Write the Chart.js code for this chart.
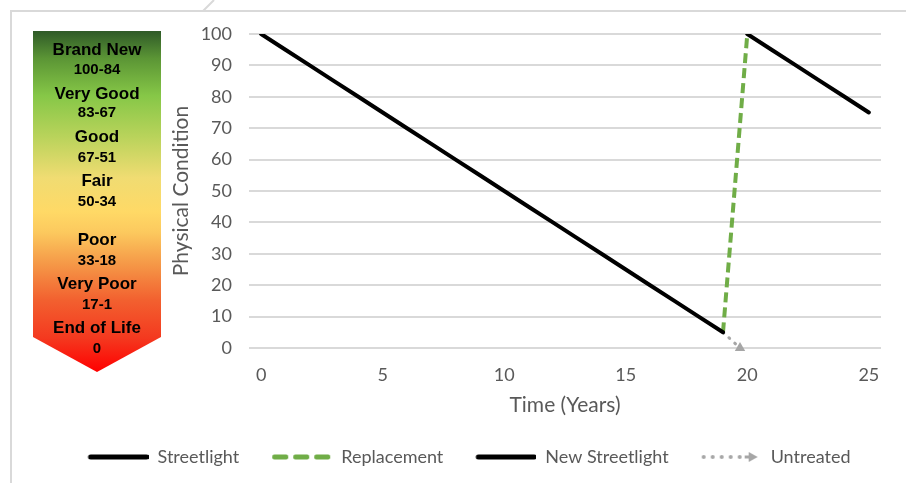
<!DOCTYPE html>
<html>
<head>
<meta charset="utf-8">
<script src="https://cdn.jsdelivr.net/npm/chart.js@4.4.1/dist/chart.umd.min.js"></script>
<style>
  html, body { margin: 0; padding: 0; background: #ffffff; overflow: hidden; }
  #wrap { width: 906px; height: 483px; position: relative; }
</style>
</head>
<body>
<div id="wrap"><canvas id="c" width="906" height="483"></canvas></div>
<script>
// Condition of a streetlight over its life, in years
const streetlightYears = [0, 1, 2, 3, 4, 5, 6, 7, 8, 9, 10, 11, 12, 13, 14, 15, 16, 17, 18, 19];
const streetlightCondition = [100, 95, 90, 85, 80, 75, 70, 65, 60, 55, 50, 45, 40, 35, 30, 25, 20, 15, 10, 5];
const replacementYears = [19, 20];
const replacementCondition = [5, 100];
const newStreetlightYears = [20, 21, 22, 23, 24, 25];
const newStreetlightCondition = [100, 95, 90, 85, 80, 75];
const untreatedYears = [19, 19.7];
const untreatedCondition = [5, 0];
const xTickValues = [0, 5, 10, 15, 20, 25];
const seriesNames = ['Streetlight', 'Replacement', 'New Streetlight', 'Untreated'];

// Condition rating scale shown beside the chart
const conditionNames = ['Brand New', 'Very Good', 'Good', 'Fair', 'Poor', 'Very Poor', 'End of Life'];
const conditionRanges = ['100-84', '83-67', '67-51', '50-34', '33-18', '17-1', '0'];

const GRID = '#d9d9d9';
const TEXT = '#595959';
const FONT = 'Lato, "Open Sans", sans-serif';

const pts = (xs, ys) => xs.map((x, i) => ({ x: x, y: ys[i] }));

// Small canvases used as legend samples (left part is spacing)
function sample(draw) {
  const c = document.createElement('canvas');
  c.width = 83; c.height = 14;
  const g = c.getContext('2d');
  draw(g);
  return c;
}
const solidSample = sample(g => {
  g.strokeStyle = '#000'; g.lineWidth = 5; g.lineCap = 'round';
  g.beginPath(); g.moveTo(25, 7); g.lineTo(81, 7); g.stroke();
});
const dashSample = sample(g => {
  g.fillStyle = '#70ad47';
  [[23, 16], [44, 16], [65, 16]].forEach(([x, w]) => {
    g.beginPath(); g.roundRect(x, 4.5, w, 5, 2); g.fill();
  });
});
const dotSample = sample(g => {
  g.fillStyle = '#a6a6a6';
  [25, 34, 43, 52, 61].forEach(x => { g.beginPath(); g.arc(x, 7, 2, 0, Math.PI * 2); g.fill(); });
  g.strokeStyle = '#a6a6a6'; g.lineWidth = 3;
  g.beginPath(); g.moveTo(66, 7); g.lineTo(72, 7); g.stroke();
  g.beginPath(); g.moveTo(70, 2); g.lineTo(79, 7); g.lineTo(70, 12); g.closePath(); g.fill();
});
const legendSamples = [solidSample, dashSample, solidSample, dotSample];

// Frame and the colour-coded rating arrow on the left
const sidePanel = {
  id: 'sidePanel',
  beforeDraw(chart) {
    const ctx = chart.ctx;
    ctx.save();
    ctx.strokeStyle = '#d9d9d9';
    ctx.lineWidth = 2;
    ctx.beginPath();
    ctx.moveTo(11, 483); ctx.lineTo(11, 11); ctx.lineTo(906, 11);
    ctx.moveTo(203, 11); ctx.lineTo(214, 0);
    ctx.stroke();

    const top = 31, bottom = 337, tip = 372, left = 33, right = 161, cx = 97;
    const grad = ctx.createLinearGradient(0, top, 0, tip);
    grad.addColorStop(0.00, '#2f5a28');
    grad.addColorStop(0.08, '#5b9535');
    grad.addColorStop(0.19, '#86c747');
    grad.addColorStop(0.31, '#b9d35b');
    grad.addColorStop(0.43, '#f0dc72');
    grad.addColorStop(0.53, '#ffd966');
    grad.addColorStop(0.59, '#fcc95e');
    grad.addColorStop(0.68, '#f59a48');
    grad.addColorStop(0.79, '#f2602f');
    grad.addColorStop(0.90, '#f4391f');
    grad.addColorStop(1.00, '#ff0000');
    ctx.fillStyle = grad;
    ctx.beginPath();
    ctx.moveTo(left, top); ctx.lineTo(right, top); ctx.lineTo(right, bottom);
    ctx.lineTo(cx, tip); ctx.lineTo(left, bottom); ctx.closePath();
    ctx.fill();

    const nameY = [50, 94, 137, 181, 240, 284, 328];
    const rangeY = [70, 113, 158, 202, 261, 305, 349];
    ctx.fillStyle = '#000';
    ctx.textAlign = 'center';
    ctx.textBaseline = 'middle';
    conditionNames.forEach((name, i) => {
      ctx.font = 'bold 17px "Liberation Sans", Arial, sans-serif';
      ctx.fillText(name, cx, nameY[i]);
      ctx.font = 'bold 15px "Liberation Sans", Arial, sans-serif';
      ctx.fillText(conditionRanges[i], cx, rangeY[i]);
    });
    ctx.restore();
  }
};

new Chart(document.getElementById('c'), {
  type: 'scatter',
  data: {
    datasets: [
      {
        label: seriesNames[0], data: pts(streetlightYears, streetlightCondition),
        showLine: true, borderColor: '#000000', borderWidth: 4, pointRadius: 0,
        borderCapStyle: 'round'
      },
      {
        label: seriesNames[1], data: pts(replacementYears, replacementCondition),
        showLine: true, borderColor: '#70ad47', borderWidth: 4, pointRadius: 0,
        borderDash: [10, 5]
      },
      {
        label: seriesNames[2], data: pts(newStreetlightYears, newStreetlightCondition),
        showLine: true, borderColor: '#000000', borderWidth: 4, pointRadius: 0,
        borderCapStyle: 'round'
      },
      {
        label: seriesNames[3], data: pts(untreatedYears, untreatedCondition),
        showLine: true, borderColor: '#a6a6a6', borderWidth: 3, borderDash: [1, 7],
        borderCapStyle: 'round',
        pointRadius: [0, 6], pointStyle: 'triangle',
        pointBackgroundColor: '#a6a6a6', pointBorderColor: '#a6a6a6', pointBorderWidth: 0,
        clip: false
      }
    ]
  },
  options: {
    responsive: false,
    animation: false,
    layout: { padding: { left: 10, right: 0, top: 34, bottom: 7 } },
    scales: {
      x: {
        type: 'linear', min: -0.5, max: 25.5,
        afterBuildTicks: s => { s.ticks = xTickValues.map(v => ({ value: v })); },
        afterFit: s => { s.height = 90; },
        grid: { display: false, drawTicks: false },
        border: { display: false },
        ticks: { color: TEXT, font: { family: FONT, size: 18 }, padding: 16, maxRotation: 0 },
        title: { display: true, text: 'Time (Years)', color: TEXT, font: { family: FONT, size: 21 }, padding: { top: 0, bottom: 20 } }
      },
      y: {
        min: 0, max: 100,
        afterFit: s => { s.width = 239; },
        grid: { color: GRID, lineWidth: 2, drawTicks: false },
        border: { display: false },
        ticks: { stepSize: 10, color: TEXT, font: { family: FONT, size: 18 }, padding: 17 },
        title: { display: true, text: 'Physical Condition', color: TEXT, font: { family: FONT, size: 21 }, padding: { top: 159, bottom: 0 } }
      },
      // empty strip on the right of the plot
      yRight: {
        position: 'right', min: 0, max: 100,
        afterFit: s => { s.width = 25; },
        grid: { display: false, drawTicks: false },
        border: { display: false },
        ticks: { display: false }
      }
    },
    plugins: {
      tooltip: { enabled: false },
      legend: {
        position: 'bottom',
        labels: {
          usePointStyle: true,
          pointStyleWidth: 83,
          padding: 10,
          color: TEXT,
          font: { family: FONT, size: 18 },
          generateLabels: chart => chart.data.datasets.map((d, i) => ({
            text: d.label, datasetIndex: i, hidden: false,
            pointStyle: legendSamples[i], fontColor: TEXT,
            lineWidth: 0, strokeStyle: 'transparent', fillStyle: 'transparent'
          }))
        }
      }
    }
  },
  plugins: [sidePanel]
});
</script>
</body>
</html>
